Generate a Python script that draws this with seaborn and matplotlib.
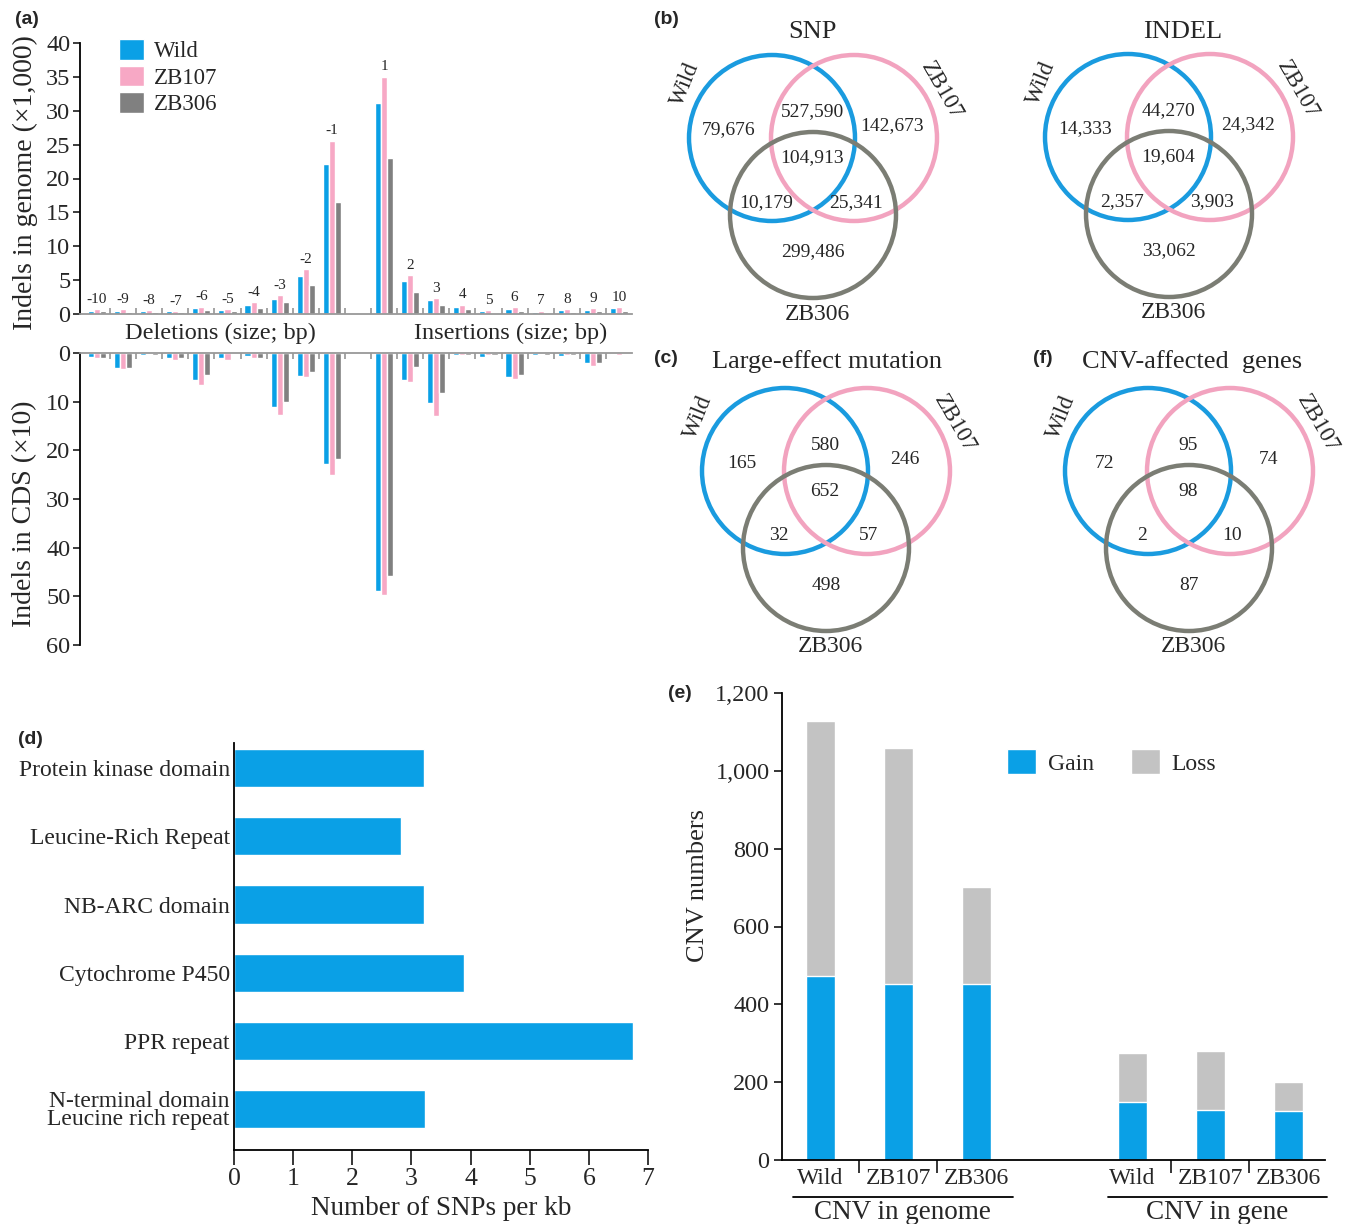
import numpy as np
import pandas as pd
import matplotlib
matplotlib.use("Agg")
import matplotlib.pyplot as plt
import seaborn as sns
from matplotlib.patches import Circle
from matplotlib.ticker import FuncFormatter
from matplotlib.transforms import blended_transform_factory

sns.set_theme(style="white")
plt.rcParams['font.family'] = ['Liberation Serif', 'DejaVu Serif']
plt.rcParams['axes.linewidth'] = 1.3

# ---------------- data ----------------
lines = ["Wild", "ZB107", "ZB306"]
sizes = ["-10", "-9", "-8", "-7", "-6", "-5", "-4", "-3", "-2", "-1",
         "1", "2", "3", "4", "5", "6", "7", "8", "9", "10"]
size_order = sizes[:10] + ["0"] + sizes[10:]

genome_wild = [0.5, 0.5, 0.5, 0.4, 0.9, 0.6, 1.4, 2.2, 5.6, 22.2,
               31.2, 4.9, 2.0, 1.1, 0.5, 0.8, 0.3, 0.55, 0.55, 0.85]
genome_zb107 = [0.7, 0.7, 0.6, 0.4, 1.1, 0.7, 1.7, 2.8, 6.6, 25.6,
                35.0, 5.7, 2.3, 1.4, 0.6, 1.0, 0.5, 0.75, 0.85, 1.0]
genome_zb306 = [0.4, 0.3, 0.3, 0.3, 0.6, 0.4, 0.9, 1.7, 4.3, 16.6,
                23.0, 3.3, 1.3, 0.7, 0.2, 0.5, 0.15, 0.35, 0.4, 0.5]

cds_wild = [0.9, 3.0, 0.5, 1.1, 5.5, 1.1, 0.7, 11.0, 4.7, 22.8,
            48.9, 5.5, 10.3, 0.4, 0.9, 5.0, 0.4, 0.55, 2.1, 0.2]
cds_zb107 = [1.0, 3.2, 0.3, 1.4, 6.6, 1.5, 1.0, 12.8, 5.0, 25.0,
             49.8, 5.9, 13.0, 0.4, 0.5, 5.3, 0.3, 0.5, 2.6, 0.35]
cds_zb306 = [1.1, 3.0, 0.5, 1.1, 4.6, 0.1, 1.1, 10.1, 4.0, 21.8,
             45.8, 2.9, 8.3, 0.4, 0.4, 4.6, 0.4, 0.4, 2.1, 0.0]

domains = ["Protein kinase domain", "Leucine-Rich Repeat", "NB-ARC domain",
           "Cytochrome P450", "PPR repeat", "N-terminal domain\nLeucine rich repeat"]
snp_per_kb = [3.21, 2.83, 3.21, 3.89, 6.75, 3.23]

cnv_groups = ["CNV in genome", "CNV in genome", "CNV in genome",
              "CNV in gene", "CNV in gene", "CNV in gene"]
cnv_lines = ["Wild", "ZB107", "ZB306", "Wild", "ZB107", "ZB306"]
cnv_gain = [473, 453, 453, 149, 129, 127]
cnv_total = [1129, 1058, 702, 275, 280, 200]

venn_titles = ["SNP", "INDEL", "Large-effect mutation", "CNV-affected  genes"]
# region order: Wild only, Wild&ZB107, ZB107 only, all three, Wild&ZB306, ZB107&ZB306, ZB306 only
venn_counts = [
    ["79,676", "527,590", "142,673", "104,913", "10,179", "25,341", "299,486"],
    ["14,333", "44,270", "24,342", "19,604", "2,357", "3,903", "33,062"],
    ["165", "580", "246", "652", "32", "57", "498"],
    ["72", "95", "74", "98", "2", "10", "87"],
]

# ---------------- colours ----------------
C_BLUE = "#0AA0E6"
C_PINK = "#F7A8C5"
C_GRAY = "#808080"
C_LOSS = "#C3C3C3"
V_BLUE = "#1A9BDF"
V_PINK = "#F2A3BF"
V_GRAY = "#7B7D74"

W, H = 1354, 1224
fig = plt.figure(figsize=(W / 100, H / 100), dpi=100)


def fbox(x0, y0, x1, y1):
    return [x0 / W, 1 - y1 / H, (x1 - x0) / W, (y1 - y0) / H]


def px(x, y):
    return (x / W, 1 - y / H)


# ---------------- panel (a) ----------------
df_a = pd.DataFrame({
    "size": sizes * 3,
    "line": sum([[l] * len(sizes) for l in lines], []),
    "genome": genome_wild + genome_zb107 + genome_zb306,
    "cds": cds_wild + cds_zb107 + cds_zb306,
})
pal = dict(zip(lines, [C_BLUE, C_PINK, C_GRAY]))

ax_t = fig.add_axes(fbox(80, 43, 632, 314))
sns.barplot(data=df_a, x="size", y="genome", hue="line", order=size_order,
            hue_order=lines, palette=pal, width=0.7, saturation=1,
            errorbar=None, ax=ax_t)
ax_t.set_xlim(-0.65, 20.5)
ax_t.set_ylim(0, 40)
ax_t.set_yticks(np.arange(0, 41, 5))
ax_t.set_xticks(np.arange(0.5, 20, 1))
ax_t.set_xticklabels([])
ax_t.tick_params(axis="x", direction="in", length=4, color="#999999", bottom=True)
ax_t.tick_params(axis="y", direction="out", length=5, left=True, labelsize=17.5, pad=2)
ax_t.set_xlabel("")
ax_t.set_ylabel("")
for s in ["top", "right"]:
    ax_t.spines[s].set_visible(False)
ax_t.spines["bottom"].set_color("#999999")
ax_t.spines["left"].set_color("black")
gmax = np.maximum(np.maximum(genome_wild, genome_zb107), genome_zb306)
for lab, m in zip(sizes, gmax):
    xi = size_order.index(lab)
    ax_t.text(xi, m + 0.5, lab, ha="center", va="bottom", fontsize=11)
leg = ax_t.legend(loc="upper left", bbox_to_anchor=px(110, 30), bbox_transform=fig.transFigure,
                  frameon=False, fontsize=16.5, handlelength=1.1, handleheight=1.0,
                  labelspacing=0.15, handletextpad=0.4, borderaxespad=0)

ax_b = fig.add_axes(fbox(80, 353, 632, 645))
sns.barplot(data=df_a, x="size", y="cds", hue="line", order=size_order,
            hue_order=lines, palette=pal, width=0.7, saturation=1,
            errorbar=None, ax=ax_b, legend=False)
ax_b.set_xlim(-0.65, 20.5)
ax_b.set_ylim(60, 0)
ax_b.set_yticks(np.arange(0, 61, 10))
ax_b.xaxis.set_ticks_position("top")
ax_b.set_xticks(np.arange(0.5, 20, 1))
ax_b.set_xticklabels([])
ax_b.tick_params(axis="x", direction="in", length=4, color="#999999", top=True, bottom=False)
ax_b.tick_params(axis="y", direction="out", length=5, left=True, labelsize=17.5, pad=2)
ax_b.set_xlabel("")
ax_b.set_ylabel("")
for s in ["bottom", "right"]:
    ax_b.spines[s].set_visible(False)
ax_b.spines["top"].set_color("#999999")
ax_b.spines["left"].set_color("black")

fig.text(*px(220, 333), "Deletions (size; bp)", ha="center", va="center", fontsize=17.5)
fig.text(*px(511, 333), "Insertions (size; bp)", ha="center", va="center", fontsize=17.5)
fig.text(*px(25, 183), "Indels in genome (\u00d71,000)", rotation=90, ha="center", va="center", fontsize=20)
fig.text(*px(25, 514), "Indels in CDS (\u00d710)", rotation=90, ha="center", va="center", fontsize=20)

# ---------------- Venn diagrams (b), (c), (f) ----------------
ax_v = fig.add_axes([0, 0, 1, 1], zorder=-1)
ax_v.set_xlim(0, W)
ax_v.set_ylim(H, 0)
ax_v.axis("off")

venn_origins = [(772, 138), (1128, 137), (785, 471), (1148, 471)]
venn_title_pos = [(812, 32), (1183, 32), (827, 362), (1192, 362)]
R = 83
circ_off = [(0, 0), (82, 0), (41, 77)]
circ_col = [V_BLUE, V_PINK, V_GRAY]
num_off = [(-43, -8), (40, -26), (120, -12), (40, 20), (-6, 65), (84, 65), (41, 114)]
for (ox, oy), (tx, ty), title, counts in zip(venn_origins, venn_title_pos, venn_titles, venn_counts):
    for (dx, dy), c in zip(circ_off, circ_col):
        ax_v.add_patch(Circle((ox + dx, oy + dy), R, fill=False, ec=c, lw=3.2))
    for (dx, dy), t in zip(num_off, counts):
        ax_v.text(ox + dx, oy + dy, t, ha="center", va="center", fontsize=14)
    ax_v.text(tx, ty, title, ha="center", va="center", fontsize=19)
    ax_v.text(ox - 87, oy - 54, "Wild", rotation=68, ha="center", va="center", fontsize=16.5)
    ax_v.text(ox + 170, oy - 47, "ZB107", rotation=-60, ha="center", va="center", fontsize=16.5)
    ax_v.text(ox + 45, oy + 176, "ZB306", ha="center", va="center", fontsize=17)

# ---------------- panel (d) ----------------
ax_d = fig.add_axes(fbox(234, 743, 648, 1150))
sns.barplot(x=snp_per_kb, y=domains, orient="h", color=C_BLUE, saturation=1,
            width=0.56, errorbar=None, ax=ax_d)
ax_d.set_xlim(0, 7)
ax_d.set_ylim(5.6, -0.37)
ax_d.set_xticks(range(8))
ax_d.tick_params(axis="x", direction="out", length=11, width=1.3, bottom=True, labelsize=18.5, pad=2)
ax_d.tick_params(axis="y", length=0, labelsize=17, pad=3)
for lab in ax_d.get_yticklabels():
    lab.set_linespacing(0.85)
ax_d.set_xlabel("Number of SNPs per kb", fontsize=19.5, labelpad=4)
ax_d.set_ylabel("")
for s in ["top", "right"]:
    ax_d.spines[s].set_visible(False)
ax_d.spines["left"].set_color("black")
ax_d.spines["bottom"].set_color("black")

# ---------------- panel (e) ----------------
keys = [f"{g}|{l}" for g, l in zip(cnv_groups, cnv_lines)]
order_e = keys[:3] + ["gap"] + keys[3:]
df_e = pd.DataFrame({"key": keys, "gain": cnv_gain, "total": cnv_total})
ax_e = fig.add_axes(fbox(782, 693, 1325, 1160))
sns.barplot(data=df_e, x="key", y="total", order=order_e, color=C_LOSS, saturation=1,
            width=0.37, errorbar=None, ax=ax_e, label="Loss")
sns.barplot(data=df_e, x="key", y="gain", order=order_e, color=C_BLUE, saturation=1,
            width=0.37, errorbar=None, ax=ax_e, label="Gain")
ax_e.set_xlim(-0.49, 6.47)
ax_e.set_ylim(0, 1200)
ax_e.set_yticks(np.arange(0, 1201, 200))
ax_e.yaxis.set_major_formatter(FuncFormatter(lambda v, p: f"{int(v):,}"))
pos = [order_e.index(k) for k in keys]
ax_e.set_xticks(pos)
ax_e.set_xticklabels(cnv_lines)
ax_e.set_xticks([0.5, 1.5, 4.5, 5.5], minor=True)
ax_e.tick_params(axis="x", which="major", length=0, labelsize=17, pad=6)
ax_e.tick_params(axis="x", which="minor", direction="out", length=9, width=1.3, bottom=True)
ax_e.tick_params(axis="y", direction="out", length=6, width=1.3, left=True, labelsize=17.5, pad=3)
ax_e.set_xlabel("")
ax_e.set_ylabel("")
fig.text(*px(698, 886), "CNV numbers", rotation=90, ha="center", va="center", fontsize=19)
for s in ["top", "right"]:
    ax_e.spines[s].set_visible(False)
ax_e.spines["left"].set_color("black")
ax_e.spines["bottom"].set_color("black")
tr = blended_transform_factory(ax_e.transData, ax_e.transAxes)
for x0, x1, name in [(-0.35, 2.47, cnv_groups[0]), (3.69, 6.49, cnv_groups[3])]:
    ax_e.plot([x0, x1], [-0.079, -0.079], color="black", lw=1.3, transform=tr, clip_on=False)
    ax_e.text((x0 + x1) / 2, -0.086, name, transform=tr, ha="center", va="top", fontsize=19.5)
h, l = ax_e.get_legend_handles_labels()
hd = dict(zip(l, h))
ax_e.legend([hd["Gain"], hd["Loss"]], ["Gain", "Loss"], ncol=2, loc="upper left",
            bbox_to_anchor=px(998, 740), bbox_transform=fig.transFigure, frameon=False,
            fontsize=17, handlelength=1.2, handleheight=1.2, columnspacing=1.6,
            handletextpad=0.5, borderaxespad=0)

# ---------------- panel labels ----------------
for lab, (x, y) in [("(a)", (27, 19)), ("(b)", (666, 19)), ("(c)", (666, 358)),
                    ("(f)", (1043, 358)), ("(d)", (30, 740)), ("(e)", (680, 694))]:
    fig.text(*px(x, y), lab, ha="center", va="center", fontsize=14,
             fontweight="bold", family=["Liberation Sans", "DejaVu Sans"])

fig.savefig("out.png", dpi=100)
